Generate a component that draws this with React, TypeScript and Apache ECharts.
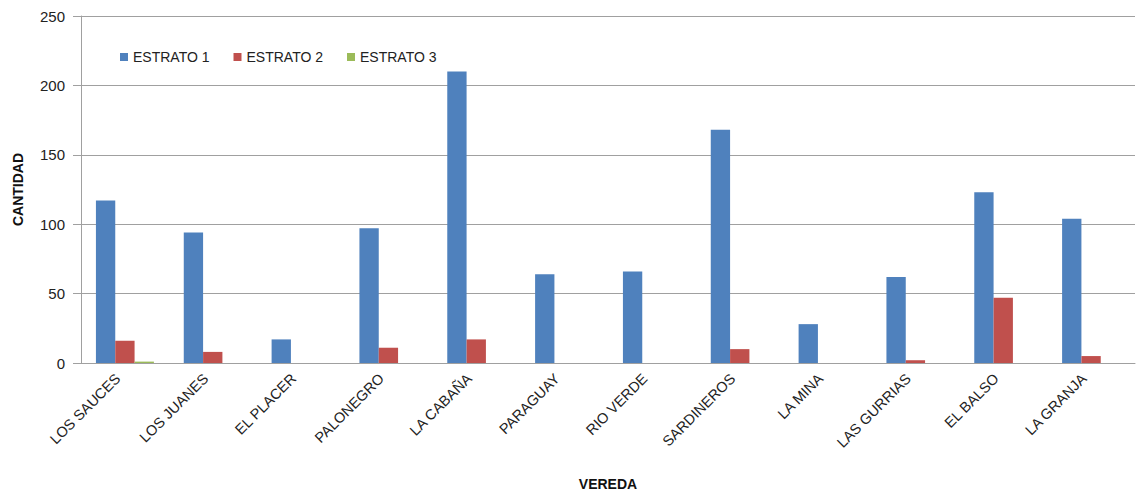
import React, { useEffect, useRef } from "react";
import * as echarts from "echarts";

const categories = [
  "LOS SAUCES", "LOS JUANES", "EL PLACER", "PALONEGRO", "LA CABAÑA", "PARAGUAY",
  "RIO VERDE", "SARDINEROS", "LA MINA", "LAS GURRIAS", "EL BALSO", "LA GRANJA",
];
const estrato1 = [117, 94, 17, 97, 210, 64, 66, 168, 28, 62, 123, 104];
const estrato2 = [16, 8, 0, 11, 17, 0, 0, 10, 0, 2, 47, 5];
const estrato3 = [1, 0, 0, 0, 0, 0, 0, 0, 0, 0, 0, 0];
const seriesNames = ["ESTRATO 1", "ESTRATO 2", "ESTRATO 3"];
const colors = ["#4F81BD", "#C0504D", "#9BBB59"];

const FONT = "'Liberation Sans', Arial, sans-serif";

export default function App() {
  const ref = useRef<HTMLDivElement>(null);
  useEffect(() => {
    if (!ref.current) return;
    const chart = echarts.init(ref.current, null, { renderer: "svg" });
    const data = [estrato1, estrato2, estrato3];
    chart.setOption({
      animation: false,
      backgroundColor: "#ffffff",
      textStyle: { fontFamily: FONT },
      grid: { left: 81, right: 3, top: 16, bottom: 128, containLabel: false, outerBoundsMode: "none" },
      legend: {
        left: 115,
        top: 45,
        icon: "rect",
        itemWidth: 8,
        itemHeight: 8,
        itemGap: 24,
        textStyle: { fontSize: 14, color: "#222", fontFamily: FONT },
        data: seriesNames,
      },
      xAxis: {
        type: "category",
        data: categories,
        name: "VEREDA",
        nameLocation: "middle",
        nameGap: 114,
        nameTextStyle: { fontSize: 14, fontWeight: "bold", color: "#111", fontFamily: FONT },
        axisLine: { show: true, lineStyle: { color: "#a0a0a0", width: 1 } },
        axisTick: { show: false },
        axisLabel: {
          rotate: 45, fontSize: 14.5, color: "#222", margin: 6, interval: 0,
          padding: [0, 10, 0, 0], fontFamily: FONT,
        },
      },
      yAxis: {
        type: "value",
        min: 0,
        max: 250,
        interval: 50,
        name: "CANTIDAD",
        nameLocation: "middle",
        nameGap: 56,
        nameTextStyle: { fontSize: 14, fontWeight: "bold", color: "#111", fontFamily: FONT },
        axisLine: { show: true, lineStyle: { color: "#a0a0a0", width: 1 } },
        axisTick: { show: true, length: 8, lineStyle: { color: "#a0a0a0" } },
        axisLabel: { fontSize: 15, color: "#222", margin: 16, fontFamily: FONT },
        splitLine: { show: true, lineStyle: { color: "#a0a0a0", width: 1 } },
      },
      series: seriesNames.map((name, i) => ({
        name,
        type: "bar",
        data: data[i],
        barGap: "0%",
        barCategoryGap: "34%",
        itemStyle: { color: colors[i] },
      })),
    });
    return () => chart.dispose();
  }, []);
  return (
    <div
      ref={ref}
      style={{ position: "fixed", left: 0, top: 0, width: 1138, height: 491, background: "#fff" }}
    />
  );
}
